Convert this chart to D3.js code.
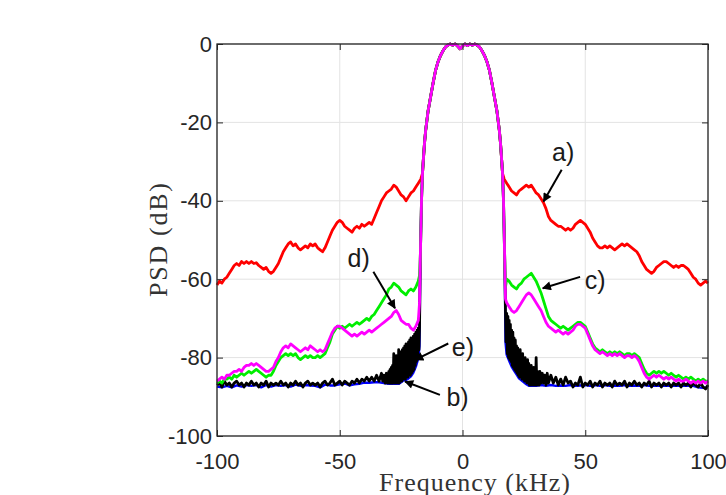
<!DOCTYPE html>
<meta charset="utf-8">
<head>
    <script src="https://d3js.org/d3.v7.min.js"></script>
    <style>
        body { margin: 0; background: #fff; }
        .tick text { font-family: "Liberation Sans", Arial, sans-serif; font-size: 22px; fill: #262626; }
        .lbl { font-family: "Liberation Serif", "Times New Roman", serif; font-size: 26px; fill: #333; }
        .note { font-family: "Liberation Sans", Arial, sans-serif; font-size: 25px; fill: #1a1a1a; }
    </style>
</head>
<body>
<div id="my_dataviz"></div>
</body>

<script>

    // tick values
    var xTicks = [-100, -50, 0, 50, 100];
    var yTicks = [-100, -80, -60, -40, -20, 0];

    // main lobe shared by every curve, [kHz, dB]
    var mainLobe = [[-16.3,-33],[-16,-30],[-15.5,-25.5],[-15,-22],[-14.5,-19.5],[-14,-17],[-13,-13.5],[-12,-10],[-11,-6.8],[-10,-4.6],[-9,-3],[-8,-1.8],[-7,-0.8],[-6,-0.3],[-5,0],[-4,-0.3],[-3,0],[-2,-0.5],[-1,-1.2],[0,-0.5],[1,0],[2,-0.4],[3,0],[4,-0.3],[5,0],[6,-0.3],[7,-0.8],[8,-1.8],[9,-3],[10,-4.6],[11,-6.8],[12,-10],[13,-13.5],[14,-17],[14.5,-19.5],[15,-22],[15.5,-25.5],[16,-30],[16.3,-33]];

    // a) red
    var redLeft = [[-100,-61.5],[-99,-60.5],[-98,-61],[-97,-60],[-96,-59.5],[-95,-58.5],[-94,-57.5],[-93,-56.5],[-92,-56],[-91,-56.5],[-90,-55.5],[-89,-56],[-88,-55.5],[-87,-56],[-86,-55.5],[-85,-56],[-84,-55.8],[-83,-56.5],[-82,-57],[-81,-57.5],[-80,-57],[-79,-58],[-78,-58.5],[-77,-58],[-76,-57],[-75,-56],[-74,-54.5],[-73,-53],[-72,-52],[-71,-51],[-70,-50.5],[-69,-51.5],[-68,-51],[-67,-52],[-66,-52.5],[-65,-52],[-64,-51.5],[-63,-52],[-62,-51],[-61,-51.5],[-60,-51],[-59,-52],[-58,-52.5],[-57,-53],[-56,-52],[-55,-50.5],[-54,-49],[-53,-47.5],[-52,-46.5],[-51,-45.5],[-50,-45],[-49,-45.5],[-48,-46.5],[-47,-47],[-46,-47.5],[-45,-48],[-44,-47],[-43,-46.5],[-42,-47],[-41,-46],[-40,-46.5],[-39,-46],[-38,-45.5],[-37,-46],[-36,-44.5],[-35,-43],[-34,-41.5],[-33,-40],[-32,-39],[-31,-38],[-30,-37.5],[-29,-37],[-28,-36],[-27,-36.5],[-26,-37.5],[-25,-38.5],[-24,-39],[-23,-40],[-22,-39],[-21,-38],[-20,-37.5],[-19,-36.5],[-18,-35.5],[-17,-34.5]];
    var redRight = [[17,-34.5],[18,-35.5],[19,-36.5],[20,-37.5],[21,-38],[22,-38.5],[23,-37.5],[24,-37],[25,-36.5],[26,-36],[27,-36.5],[28,-36],[29,-37],[30,-38],[31,-38.5],[32,-39.5],[33,-40.5],[34,-42],[35,-44],[36,-45],[37,-45.5],[38,-46],[39,-46.5],[40,-46.5],[41,-47],[42,-47.5],[43,-47],[44,-47.5],[45,-47],[46,-46],[47,-45.5],[48,-45],[49,-45.5],[50,-46],[51,-47],[52,-48],[53,-49.5],[54,-50.5],[55,-51.5],[56,-52],[57,-52],[58,-51.5],[59,-52],[60,-51.5],[61,-52],[62,-52.5],[63,-52],[64,-51.5],[65,-51],[66,-51.5],[67,-51],[68,-51.5],[69,-52],[70,-52.5],[71,-53],[72,-54],[73,-55.5],[74,-56.5],[75,-57.5],[76,-58],[77,-58.5],[78,-58],[79,-57],[80,-56.5],[81,-56],[82,-55.5],[83,-55.5],[84,-56],[85,-56.5],[86,-57],[87,-56.5],[88,-57],[89,-56.5],[90,-56.5],[91,-57],[92,-57.5],[93,-58.5],[94,-59.5],[95,-60],[96,-61],[97,-61.5],[98,-61],[99,-60.5],[100,-61]];

    // c) green
    var greenLeft = [[-100,-86.5],[-99,-86],[-98,-86.5],[-97,-85.5],[-96,-85.5],[-95,-85],[-94,-85.5],[-93,-84.5],[-92,-85],[-91,-84.5],[-90,-84],[-89,-84.5],[-88,-84],[-87,-83.5],[-86,-84],[-85,-83.5],[-84,-83],[-83,-83.5],[-82,-84],[-81,-84.5],[-80,-85],[-79,-84.5],[-78,-84.5],[-77,-83.5],[-76,-82],[-75,-81],[-74,-80],[-73,-79.5],[-72,-79],[-71,-79.5],[-70,-79],[-69,-79.5],[-68,-79],[-67,-80],[-66,-80.5],[-65,-80],[-64,-79.5],[-63,-80],[-62,-79.5],[-61,-80],[-60,-80],[-59,-79.5],[-58,-80],[-57,-79.5],[-56,-79],[-55,-77.5],[-54,-76],[-53,-74],[-52,-73],[-51,-72],[-50,-72.5],[-49,-72],[-48,-72.5],[-47,-72],[-46,-71.5],[-45,-72],[-44,-71.5],[-43,-71],[-42,-71.5],[-41,-71],[-40,-70.5],[-39,-70],[-38,-70.5],[-37,-69.5],[-36,-69],[-35,-68],[-34,-67],[-33,-66],[-32,-65],[-31,-64],[-30,-62.5],[-29,-62],[-28,-61],[-27,-61.5],[-26,-62],[-25,-63],[-24,-63.5],[-23,-64],[-22,-63],[-21,-62.5],[-20,-63],[-19,-62],[-18,-60.5],[-17.5,-59],[-17.2,-55],[-16.7,-40]];
    var greenRight = [[16.7,-40],[17.2,-55],[17.5,-62],[18,-60],[19,-60.5],[20,-61.5],[21,-62],[22,-62.5],[23,-61.5],[24,-61],[25,-60],[26,-59.5],[27,-59],[28,-58.5],[29,-59.5],[30,-60.5],[31,-62],[32,-63.5],[33,-65.5],[34,-67.5],[35,-69.5],[36,-70.5],[37,-71],[38,-71.5],[39,-72],[40,-72.5],[41,-72],[42,-72.5],[43,-73],[44,-72.5],[45,-72],[46,-71.5],[47,-71],[48,-71],[49,-71.5],[50,-72],[51,-73.5],[52,-75],[53,-76.5],[54,-77.5],[55,-78],[56,-78.5],[57,-78],[58,-78.5],[59,-79],[60,-78.5],[61,-79],[62,-78.5],[63,-79],[64,-78.5],[65,-79],[66,-79.5],[67,-79],[68,-79],[69,-79.5],[70,-79],[71,-79.5],[72,-80],[73,-81.5],[74,-83],[75,-84],[76,-84.5],[77,-84],[78,-83.5],[79,-84],[80,-83.5],[81,-84],[82,-83.5],[83,-84],[84,-84.5],[85,-84],[86,-84.5],[87,-85],[88,-84.5],[89,-85],[90,-85.5],[91,-85],[92,-85.5],[93,-85],[94,-85.5],[95,-86],[96,-85.5],[97,-86],[98,-85.5],[99,-86],[100,-86]];

    // d) magenta
    var magentaLeft = [[-100,-86],[-99,-85.5],[-98,-85],[-97,-85.5],[-96,-84.5],[-95,-84.5],[-94,-84],[-93,-83.5],[-92,-83.5],[-91,-83],[-90,-83.5],[-89,-82.5],[-88,-82],[-87,-82],[-86,-81.5],[-85,-82],[-84,-81.5],[-83,-82],[-82,-82.5],[-81,-83],[-80,-83.5],[-79,-83.5],[-78,-83],[-77,-82.5],[-76,-81],[-75,-80],[-74,-78.5],[-73,-77.5],[-72,-77],[-71,-77.5],[-70,-76.5],[-69,-77],[-68,-77.5],[-67,-78],[-66,-78.5],[-65,-78],[-64,-77.5],[-63,-78],[-62,-77],[-61,-77.5],[-60,-78],[-59,-78.5],[-58,-78],[-57,-78.5],[-56,-78],[-55,-76.5],[-54,-75],[-53,-73.5],[-52,-72.5],[-51,-72],[-50,-72],[-49,-72.5],[-48,-73],[-47,-73.5],[-46,-74],[-45,-74.5],[-44,-74],[-43,-74.5],[-42,-74],[-41,-73.5],[-40,-74],[-39,-73.5],[-38,-73],[-37,-73.5],[-36,-73],[-35,-72.5],[-34,-72],[-33,-71.5],[-32,-71],[-31,-70.5],[-30,-70],[-29,-69.5],[-28,-68.5],[-27,-68],[-26,-69],[-25,-70.5],[-24,-71],[-23,-71.5],[-22,-71.5],[-21,-72.5],[-20,-73],[-19,-72],[-18,-70.5],[-17.5,-66],[-17.2,-55],[-16.7,-40]];
    var magentaRight = [[16.7,-40],[17.2,-55],[17.5,-65],[18,-66],[19,-67],[20,-68],[21,-68.5],[22,-68],[23,-67],[24,-66],[25,-65],[26,-64],[27,-63.5],[28,-64],[29,-65],[30,-66],[31,-67],[32,-68],[33,-69.5],[34,-71],[35,-72],[36,-72.5],[37,-73],[38,-73.5],[39,-73],[40,-73.5],[41,-74],[42,-73.5],[43,-74],[44,-73.5],[45,-73],[46,-72],[47,-71.5],[48,-71.5],[49,-72],[50,-72.5],[51,-74],[52,-75.5],[53,-77],[54,-78],[55,-78.5],[56,-79],[57,-78.5],[58,-79],[59,-79.5],[60,-79],[61,-79.5],[62,-79],[63,-79.5],[64,-79],[65,-79.5],[66,-80],[67,-79.5],[68,-79.5],[69,-80],[70,-79.5],[71,-80],[72,-81],[73,-82.5],[74,-84],[75,-85],[76,-85.5],[77,-85],[78,-84.5],[79,-85],[80,-84.5],[81,-85],[82,-85.5],[83,-85],[84,-85.5],[85,-85],[86,-85.5],[87,-86],[88,-85.5],[89,-86],[90,-86],[91,-85.5],[92,-86],[93,-86.5],[94,-86],[95,-86.5],[96,-86],[97,-86.5],[98,-86],[99,-86.5],[100,-86]];

    // e) black, very noisy next to the main lobe
    var blackLeft = [[-100,-87],[-99,-86.5],[-98,-87.5],[-97,-86],[-96,-87],[-95,-86.5],[-94,-87.5],[-93,-86.5],[-92,-86],[-91,-87],[-90,-86.5],[-89,-87.5],[-88,-86.5],[-87,-87],[-86,-86],[-85,-87],[-84,-86.5],[-83,-87.5],[-82,-86.5],[-81,-87],[-80,-86],[-79,-87.5],[-78,-86.5],[-77,-87],[-76,-86.5],[-75,-87],[-74,-86],[-73,-87],[-72,-86.5],[-71,-87.5],[-70,-86.5],[-69,-87],[-68,-86],[-67,-87],[-66,-86.5],[-65,-87.5],[-64,-86.5],[-63,-86],[-62,-87],[-61,-86.5],[-60,-87],[-59,-86.5],[-58,-87.5],[-57,-86.5],[-56,-86],[-55,-87],[-54,-86.5],[-53,-85.5],[-52,-87],[-51,-86.5],[-50,-86],[-49,-87],[-48,-86],[-47,-86.5],[-46,-87],[-45,-86],[-44,-86.5],[-43,-85.5],[-42,-86.5],[-41,-85.5],[-40,-86],[-39,-85],[-38,-86],[-37,-85],[-36,-86],[-35,-84.5],[-34,-86],[-33,-84],[-32.5,-86],[-32,-84.5],[-31.5,-86.5],[-31,-84],[-30.5,-86.5],[-30,-83.5],[-29.75,-86.5],[-29.5,-83],[-29.25,-86.5],[-29,-82.5],[-28.75,-86.5],[-28.5,-82],[-28.25,-86.5],[-28,-79],[-27.75,-86.5],[-27.5,-81],[-27.25,-86.5],[-27,-79.5],[-26.75,-86.5],[-26.5,-80],[-26.25,-86.5],[-26,-78],[-25.75,-86.5],[-25.5,-79.5],[-25.25,-86],[-25,-78.5],[-24.75,-86],[-24.5,-78],[-24.25,-85.5],[-24,-77.5],[-23.75,-85.5],[-23.5,-77],[-23.25,-85.5],[-23,-76.5],[-22.75,-85],[-22.5,-76.5],[-22.25,-85],[-22,-76],[-21.75,-84.5],[-21.5,-75.5],[-21.25,-84.5],[-21,-75],[-20.75,-84],[-20.5,-75],[-20.25,-83.5],[-20,-74.5],[-19.75,-83],[-19.5,-74],[-19.25,-82],[-19,-73.5],[-18.75,-81],[-18.5,-73],[-18.25,-80],[-18,-72.5],[-17.75,-78],[-17.5,-72],[-17.2,-55],[-16.7,-40]];
    var blackRight = [[16.7,-40],[17.2,-55],[17.5,-68],[17.75,-76],[18,-68.7],[18.25,-79],[18.5,-69.5],[18.75,-80],[19,-70.5],[19.25,-80.5],[19.5,-71.5],[19.75,-81],[20,-73],[20.25,-82],[20.5,-73.5],[20.75,-82.5],[21,-75],[21.25,-83],[21.5,-75.5],[21.75,-83.5],[22,-77],[22.25,-84],[22.5,-77.5],[22.75,-84.5],[23,-78.5],[23.25,-85],[23.5,-78],[23.75,-85],[24,-79.5],[24.25,-85.5],[24.5,-79],[24.75,-85.5],[25,-80.5],[25.25,-86],[25.5,-80],[25.75,-86],[26,-81],[26.25,-86.5],[26.5,-80.5],[26.75,-86.5],[27,-81.5],[27.25,-87],[27.5,-82],[27.75,-87],[28,-82],[28.25,-87],[28.5,-83],[28.75,-87],[29,-82.5],[29.25,-87],[29.5,-83.5],[29.75,-87],[30,-80],[30.25,-87],[30.5,-83.5],[30.75,-87],[31,-84],[31.25,-87],[31.5,-83.5],[32,-86.5],[32.5,-84],[33,-86.5],[33.5,-84.5],[34,-87],[34.5,-84],[35,-86.5],[36,-84.5],[37,-86.5],[38,-85],[39,-87],[40,-85.5],[41,-87],[42,-85],[43,-86.5],[44,-86],[45,-87.5],[46,-86.5],[47,-87],[48,-85],[49,-87.5],[50,-86.5],[51,-87],[52,-86],[53,-87.5],[54,-86.5],[55,-87],[56,-86],[57,-87.5],[58,-86.5],[59,-87],[60,-86.5],[61,-87.5],[62,-86],[63,-87],[64,-86.5],[65,-87],[66,-86],[67,-87.5],[68,-86.5],[69,-87],[70,-86],[71,-87],[72,-86.5],[73,-87.5],[74,-86.5],[75,-87],[76,-86],[77,-87.5],[78,-86.5],[79,-87],[80,-86.5],[81,-87.5],[82,-86.5],[83,-87],[84,-86.5],[85,-87.5],[86,-86.5],[87,-87],[88,-86.5],[89,-87.5],[90,-86.5],[91,-87],[92,-86.5],[93,-87.5],[94,-86.5],[95,-87],[96,-87.5],[97,-86.5],[98,-87.5],[99,-88],[100,-87]];

    // b) blue, mostly hidden below black
    var blueLeft = [[-100,-87.4],[-98,-87.6],[-96,-87.2],[-94,-87.6],[-92,-87.1],[-90,-87.4],[-88,-87],[-86,-87.2],[-84,-87],[-82,-87.6],[-80,-87],[-78,-87.4],[-76,-87],[-74,-87.2],[-72,-87],[-70,-87.4],[-68,-86.9],[-66,-87.2],[-64,-87],[-62,-87.1],[-60,-87.2],[-58,-87.6],[-56,-86.9],[-54,-87.1],[-52,-87.1],[-50,-86.8],[-48,-86.6],[-46,-87.1],[-44,-86.8],[-42,-86.7],[-40,-86.4],[-38,-86.4],[-36,-86.3],[-34,-86.3],[-32,-86.5],[-30,-86.7],[-28,-86.7],[-26,-86.7],[-25,-86.3],[-24,-85.8],[-23,-85.7],[-22,-85.3],[-21,-84.8],[-20,-83.8],[-19,-82.3],[-18,-80.2],[-17.5,-77],[-17.2,-55],[-16.7,-40]];
    var blueRight = [[16.7,-40],[17.2,-55],[17.5,-76],[18,-79.3],[19,-80.8],[20,-82.3],[21,-83.3],[22,-84.3],[23,-85.3],[24,-85.8],[25,-86.3],[26,-86.8],[27,-87.2],[28,-87.2],[30,-87.2],[32,-87],[34,-87.2],[36,-87],[38,-87.2],[40,-87.1],[42,-87.2],[44,-87],[46,-87.2],[48,-87.1],[50,-87],[52,-87.2],[54,-87],[56,-87.2],[58,-87],[60,-87.2],[62,-87.1],[64,-87.2],[66,-87],[68,-87.2],[70,-87.1],[72,-87.2],[74,-87],[76,-87.2],[78,-87.1],[80,-87.2],[82,-87.1],[84,-87.2],[86,-87.1],[88,-87.2],[90,-87.1],[92,-87.2],[94,-87.2],[96,-87.6],[98,-87.7],[100,-87.6]];

    // annotations: label, label position, arrow start, arrow end (kHz, dB)
    var notes = [
        {t: "a)", p: [41, -27.6], from: [40.4, -32.1], to: [33, -40.2]},
        {t: "c)", p: [54, -60.2], from: [47.9, -59.4], to: [32.7, -62.3]},
        {t: "d)", p: [-42.3, -54.6], from: [-36.3, -58.1], to: [-27.5, -67.4]},
        {t: "e)", p: [0.2, -77.4], from: [-5.8, -76.4], to: [-19.3, -80.6]},
        {t: "b)", p: [-2, -90], from: [-9.2, -89.5], to: [-23.4, -86.1]}
    ];

    var W = 726, H = 495;
    var margin = {top: 44, right: 18, bottom: 59, left: 217},
        width = W - margin.left - margin.right,
        height = H - margin.top - margin.bottom;

    var svg = d3.select("#my_dataviz")
        .append("svg")
        .attr("width", W)
        .attr("height", H)
        .append("g")
        .attr("transform", "translate(" + margin.left + "," + margin.top + ")");

    var x = d3.scaleLinear().domain([-100, 100]).range([0, width]);
    var y = d3.scaleLinear().domain([-100, 0]).range([height, 0]);

    // grid
    svg.append("g").selectAll("line").data(xTicks).enter().append("line")
        .attr("x1", function(d) { return x(d); }).attr("x2", function(d) { return x(d); })
        .attr("y1", 0).attr("y2", height)
        .attr("stroke", "#e3e3e3").attr("stroke-width", 1);
    svg.append("g").selectAll("line").data(yTicks).enter().append("line")
        .attr("y1", function(d) { return y(d); }).attr("y2", function(d) { return y(d); })
        .attr("x1", 0).attr("x2", width)
        .attr("stroke", "#e3e3e3").attr("stroke-width", 1);

    // curves
    var line = d3.line()
        .x(function(d) { return x(d[0]); })
        .y(function(d) { return y(d[1]); });

    var curves = [
        {data: redLeft.concat(mainLobe, redRight), color: "#ff0000", w: 2.8},
        {data: blueLeft.concat(mainLobe, blueRight), color: "#0000ff", w: 2.4},
        {data: blackLeft.concat(mainLobe, blackRight), color: "#000000", w: 2.8},
        {data: greenLeft.concat(mainLobe, greenRight), color: "#00ee00", w: 2.8},
        {data: magentaLeft.concat(mainLobe, magentaRight), color: "#ff00ff", w: 2.8}
    ];

    svg.append("g")
        .selectAll("path")
        .data(curves)
        .enter().append("path")
        .attr("d", function(d) { return line(d.data); })
        .attr("fill", "none")
        .attr("stroke", function(d) { return d.color; })
        .attr("stroke-width", function(d) { return d.w; })
        .attr("stroke-linejoin", "round");

    // axes, MATLAB style ticks pointing in, plain hyphen minus
    var fmt = function(d) { return String(d); };
    var axL = svg.append("g")
        .call(d3.axisLeft(y).tickValues(yTicks).tickSize(-6).tickSizeOuter(0).tickPadding(5).tickFormat(fmt));
    var axB = svg.append("g")
        .attr("transform", "translate(0," + height + ")")
        .call(d3.axisBottom(x).tickValues(xTicks).tickSize(-6).tickSizeOuter(0).tickPadding(17).tickFormat(fmt));
    var axR = svg.append("g")
        .attr("transform", "translate(" + width + ",0)")
        .call(d3.axisRight(y).tickValues(yTicks).tickSize(-6).tickSizeOuter(0).tickFormat(""));
    var axT = svg.append("g")
        .call(d3.axisTop(x).tickValues(xTicks).tickSize(-6).tickSizeOuter(0).tickFormat(""));
    [axL, axB, axR, axT].forEach(function(a) {
        a.select(".domain").remove();
        a.selectAll(".tick line").attr("stroke", "#262626").attr("stroke-width", 1);
        a.selectAll(".tick text").attr("fill", "#262626");
    });

    // box
    svg.append("rect")
        .attr("width", width).attr("height", height)
        .attr("fill", "none").attr("stroke", "#262626").attr("stroke-width", 1.3);

    // axis labels
    svg.append("text")
        .attr("class", "lbl")
        .attr("x", width / 2 + 12)
        .attr("y", height + 55)
        .attr("text-anchor", "middle")
        .attr("textLength", 191)
        .text("Frequency (kHz)");
    svg.append("text")
        .attr("class", "lbl")
        .attr("transform", "translate(-50," + (height / 2) + ") rotate(-90)")
        .attr("text-anchor", "middle")
        .attr("textLength", 114)
        .text("PSD (dB)");

    // arrows
    svg.append("defs").append("marker")
        .attr("id", "head")
        .attr("viewBox", "0 0 10 10")
        .attr("refX", 9).attr("refY", 5)
        .attr("markerWidth", 10).attr("markerHeight", 9)
        .attr("markerUnits", "userSpaceOnUse")
        .attr("orient", "auto")
        .append("path")
        .attr("d", "M0,0 L10,5 L0,10 Z")
        .attr("fill", "#000");

    svg.append("g").selectAll("line").data(notes).enter().append("line")
        .attr("x1", function(d) { return x(d.from[0]); })
        .attr("y1", function(d) { return y(d.from[1]); })
        .attr("x2", function(d) { return x(d.to[0]); })
        .attr("y2", function(d) { return y(d.to[1]); })
        .attr("stroke", "#000").attr("stroke-width", 2)
        .attr("marker-end", "url(#head)");

    svg.append("g").selectAll("text").data(notes).enter().append("text")
        .attr("class", "note")
        .attr("x", function(d) { return x(d.p[0]); })
        .attr("y", function(d) { return y(d.p[1]); })
        .attr("text-anchor", "middle")
        .attr("dominant-baseline", "central")
        .text(function(d) { return d.t; });

</script>
